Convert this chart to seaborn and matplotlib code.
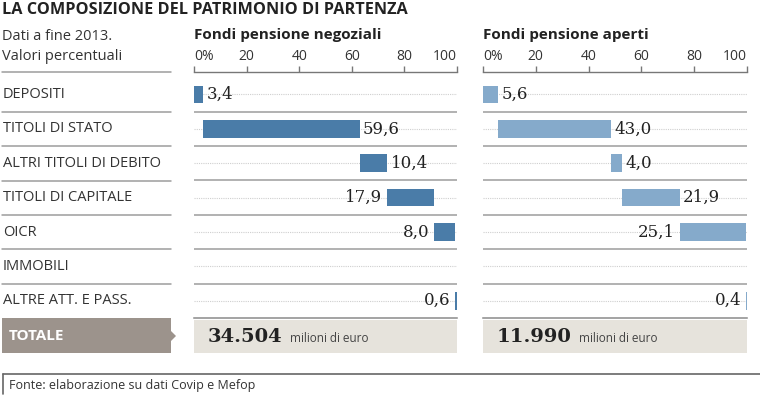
import numpy as np
import pandas as pd
import matplotlib.pyplot as plt
import matplotlib.patches as mpatches
from matplotlib.lines import Line2D
import seaborn as sns

categories = ['DEPOSITI', 'TITOLI DI STATO', 'ALTRI TITOLI DI DEBITO',
              'TITOLI DI CAPITALE', 'OICR', 'IMMOBILI', 'ALTRE ATT. E PASS.']
negoziali = [3.4, 59.6, 10.4, 17.9, 8.0, 0.0, 0.6]
aperti = [5.6, 43.0, 4.0, 21.9, 25.1, 0.0, 0.4]
# where the value label goes: 'r' after the bar, 'l' before it
side_negoziali = ['r', 'r', 'r', 'l', 'l', None, 'l']
side_aperti = ['r', 'r', 'r', 'r', 'l', None, 'l']
tick_values = [0, 20, 40, 60, 80, 100]
tick_labels = ['0%', '20', '40', '60', '80', '100']
panel_titles = ['Fondi pensione negoziali', 'Fondi pensione aperti']
totals = ['34.504', '11.990']

W, H = 760, 413
sns.set_theme(style='white')
plt.rcParams['font.family'] = ['Liberation Sans Narrow', 'Open Sans', 'DejaVu Sans']
SERIF = ['DejaVu Serif']

fig = plt.figure(figsize=(W / 100, H / 100), dpi=100)
fig.patch.set_facecolor('white')


def fx(x):
    return x / W


def fy(y):
    return 1 - y / H


def hline(x0, x1, y, color='#9d9d9d', lw=1.1):
    fig.add_artist(Line2D([fx(x0), fx(x1)], [fy(y), fy(y)], color=color, lw=lw))


def rect(x0, y0, x1, y1, color):
    fig.add_artist(mpatches.Rectangle((fx(x0), fy(y1)), fx(x1) - fx(x0), fy(y0) - fy(y1),
                                      facecolor=color, edgecolor='none'))


ROW_TOP, ROW_H, AX_TOP = 77.3, 34.4, 72.0
n = len(categories)

# titles
fig.text(fx(2), fy(10), 'LA COMPOSIZIONE DEL PATRIMONIO DI PARTENZA',
         fontsize=11.7, fontweight='bold', color='#222222', va='center', ha='left')
fig.text(fx(2), fy(36), 'Dati a fine 2013.', fontsize=10.5, color='#333333', va='center')
fig.text(fx(2), fy(57), 'Valori percentuali', fontsize=10.5, color='#333333', va='center')

# label column
hline(2, 171, AX_TOP)
for i, cat in enumerate(categories):
    fig.text(fx(3), fy(ROW_TOP + ROW_H * (i + 0.5)), cat, fontsize=10.5,
             color='#333333', va='center', ha='left')
    if i < n - 1:
        hline(2, 171, ROW_TOP + ROW_H * (i + 1))

# totale box
rect(2, 318, 171, 353, '#9c938c')
fig.add_artist(mpatches.Polygon([(fx(171), fy(331)), (fx(176), fy(336)), (fx(171), fy(341))],
                                closed=True, facecolor='#9c938c', edgecolor='none'))
fig.text(fx(9), fy(336), 'TOTALE', fontsize=11, fontweight='bold', color='white', va='center')

panels = [(194, 457, negoziali, side_negoziali, '#4a7ca8'),
          (483, 747, aperti, side_aperti, '#85aacb')]

for k, (x0, x1, vals, sides, col) in enumerate(panels):
    ax = fig.add_axes([fx(x0), fy(318), fx(x1) - fx(x0), fy(AX_TOP) - fy(318)])
    starts = np.concatenate([[0], np.cumsum(vals)[:-1]])
    df = pd.DataFrame({'cat': categories, 'val': vals, 'start': starts})

    ax.hlines(range(n), 0, 100, color='#cfcfcf', lw=0.8, linestyle=(0, (1, 1)), zorder=0)
    ax.hlines(np.arange(0.5, n - 1, 1), 0, 100, color='#9d9d9d', lw=1.1, zorder=0)
    sns.barplot(data=df, y='cat', x='val', orient='h', color=col, saturation=1, width=0.51,
                errorbar=None, left=df['start'].values, linewidth=0, ax=ax, zorder=2)

    for i, (v, s, side) in enumerate(zip(vals, starts, sides)):
        if side is None:
            continue
        txt = f'{v:.1f}'.replace('.', ',')
        if side == 'r':
            ax.text(s + v + 1.3, i, txt, ha='left', va='center', family=SERIF,
                    fontsize=12, color='#222222')
        else:
            ax.text(s - 1.8, i, txt, ha='right', va='center', family=SERIF,
                    fontsize=12, color='#222222')

    ax.set_xlim(0, 100)
    ax.set_ylim(n - 0.5, -0.5 - (ROW_TOP - AX_TOP) / ROW_H)
    ax.set_xlabel('')
    ax.set_ylabel('')
    ax.set_yticks([])
    ax.xaxis.tick_top()
    ax.set_xticks(tick_values)
    ax.set_xticklabels(tick_labels)
    ax.tick_params(axis='x', top=True, bottom=False, direction='out', length=4,
                   width=1, color='#777777', pad=2, labelsize=10, labelcolor='#333333')
    lbls = ax.get_xticklabels()
    lbls[0].set_horizontalalignment('left')
    lbls[-1].set_horizontalalignment('right')
    for sp in ['left', 'right']:
        ax.spines[sp].set_visible(False)
    ax.spines['top'].set_color('#777777')
    ax.spines['top'].set_linewidth(1)
    ax.spines['bottom'].set_color('#8a8a8a')
    ax.spines['bottom'].set_linewidth(1.1)
    ax.set_facecolor('none')

    fig.text(fx(x0), fy(35), panel_titles[k], fontsize=11, fontweight='bold',
             color='#222222', va='center', ha='left')

    # totals
    rect(x0, 320, x1, 353, '#e6e3dc')
    t = fig.text(fx(x0 + 14), fy(337), totals[k], fontsize=14, fontweight='bold',
                 family=SERIF, color='#222222', va='center', ha='left')
    fig.canvas.draw()
    bb = t.get_window_extent()
    fig.text(bb.x1 / W + fx(7), fy(338), 'milioni di euro', fontsize=8.5,
             color='#444444', va='center', ha='left')

# footer
hline(3, 760, 374, color='#666666', lw=1.2)
fig.add_artist(Line2D([fx(3), fx(3)], [fy(374), fy(394)], color='#666666', lw=1.2))
fig.text(fx(9), fy(385), 'Fonte: elaborazione su dati Covip e Mefop', fontsize=9,
         color='#333333', va='center', ha='left')

fig.savefig('out.png', dpi=100)
